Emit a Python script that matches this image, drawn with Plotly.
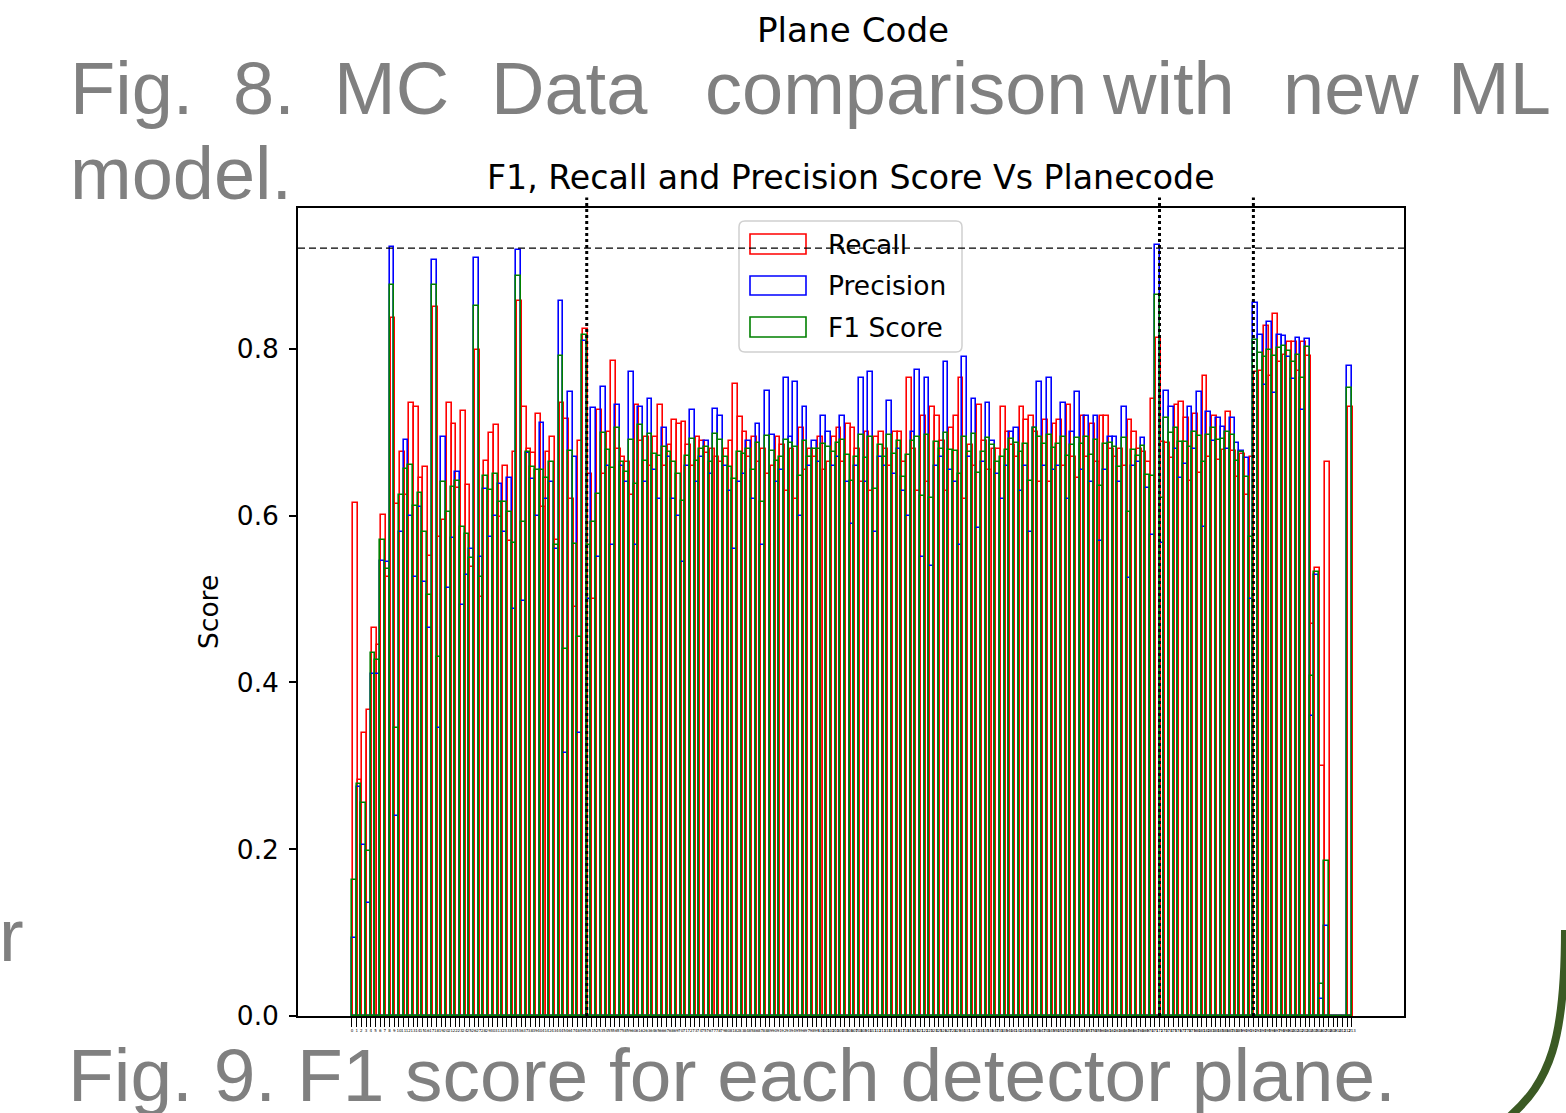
import plotly.graph_objects as go

# ---------------- data ----------------
plane_codes = list(range(213))                 # histogram bins 0..212
tick_values = list(range(214))
tick_labels = [str(v) for v in tick_values]

recall = [
    0.615, 0.283, 0.340, 0.367, 0.465, 0.445, 0.601, 0.527, 0.837, 0.614,
    0.676, 0.625, 0.735, 0.730, 0.645, 0.659, 0.552, 0.850, 0.575, 0.595,
    0.735, 0.710, 0.633, 0.726, 0.637, 0.538, 0.799, 0.503, 0.666, 0.699,
    0.709, 0.598, 0.660, 0.570, 0.676, 0.858, 0.730, 0.680, 0.675, 0.722,
    0.610, 0.676, 0.695, 0.571, 0.735, 0.716, 0.620, 0.490, 0.690, 0.824,
    0.650, 0.500, 0.727, 0.650, 0.700, 0.786, 0.680, 0.670, 0.665, 0.625,
    0.733, 0.690, 0.695, 0.660, 0.695, 0.733, 0.660, 0.685, 0.715, 0.710,
    0.713, 0.685, 0.660, 0.695, 0.690, 0.675, 0.680, 0.670, 0.665, 0.680,
    0.690, 0.758, 0.718, 0.700, 0.670, 0.695, 0.665, 0.680, 0.650, 0.660,
    0.695, 0.685, 0.630, 0.680, 0.620, 0.705, 0.655, 0.680, 0.670, 0.695,
    0.655, 0.665, 0.695, 0.705, 0.665, 0.710, 0.705, 0.680, 0.640, 0.700,
    0.630, 0.695, 0.700, 0.680, 0.660, 0.700, 0.700, 0.665, 0.765, 0.680,
    0.630, 0.720, 0.640, 0.730, 0.720, 0.690, 0.630, 0.705, 0.720, 0.765,
    0.620, 0.685, 0.660, 0.733, 0.690, 0.655, 0.680, 0.680, 0.730, 0.700,
    0.685, 0.670, 0.730, 0.715, 0.720, 0.700, 0.640, 0.715, 0.640, 0.710,
    0.715, 0.660, 0.733, 0.670, 0.645, 0.720, 0.670, 0.710, 0.665, 0.720,
    0.720, 0.680, 0.670, 0.680, 0.660, 0.715, 0.700, 0.680, 0.676, 0.665,
    0.740, 0.813, 0.688, 0.687, 0.669, 0.733, 0.737, 0.717, 0.642, 0.722,
    0.651, 0.768, 0.671, 0.720, 0.667, 0.679, 0.725, 0.678, 0.646, 0.674,
    0.625, 0.670, 0.773, 0.774, 0.827, 0.768, 0.842, 0.785, 0.793, 0.808,
    0.808, 0.774, 0.808, 0.792, 0.470, 0.537, 0.300, 0.665, 0.0, 0.0,
    0.0, 0.0, 0.730,
]

precision = [
    0.094, 0.275, 0.205, 0.135, 0.410, 0.410, 0.546, 0.545, 0.922, 0.240,
    0.580, 0.691, 0.600, 0.527, 0.611, 0.520, 0.465, 0.907, 0.345, 0.694,
    0.513, 0.573, 0.652, 0.493, 0.529, 0.560, 0.909, 0.550, 0.632, 0.575,
    0.600, 0.638, 0.580, 0.645, 0.488, 0.919, 0.498, 0.675, 0.644, 0.600,
    0.711, 0.620, 0.640, 0.560, 0.857, 0.315, 0.749, 0.671, 0.340, 0.810,
    0.500, 0.729, 0.550, 0.755, 0.660, 0.565, 0.733, 0.660, 0.640, 0.773,
    0.565, 0.730, 0.640, 0.740, 0.655, 0.620, 0.705, 0.670, 0.620, 0.600,
    0.545, 0.660, 0.727, 0.640, 0.670, 0.690, 0.650, 0.728, 0.720, 0.660,
    0.630, 0.560, 0.640, 0.650, 0.690, 0.620, 0.710, 0.565, 0.750, 0.697,
    0.640, 0.655, 0.765, 0.695, 0.760, 0.600, 0.730, 0.660, 0.690, 0.665,
    0.720, 0.700, 0.660, 0.670, 0.720, 0.640, 0.590, 0.660, 0.765, 0.640,
    0.773, 0.580, 0.670, 0.660, 0.738, 0.650, 0.680, 0.630, 0.600, 0.700,
    0.775, 0.550, 0.765, 0.540, 0.660, 0.670, 0.785, 0.655, 0.640, 0.565,
    0.790, 0.670, 0.740, 0.585, 0.665, 0.735, 0.690, 0.650, 0.620, 0.660,
    0.700, 0.705, 0.630, 0.660, 0.580, 0.705, 0.760, 0.660, 0.765, 0.655,
    0.660, 0.735, 0.620, 0.700, 0.748, 0.655, 0.720, 0.640, 0.720, 0.570,
    0.655, 0.695, 0.695, 0.640, 0.730, 0.525, 0.660, 0.665, 0.693, 0.633,
    0.577, 0.925, 0.567, 0.750, 0.731, 0.680, 0.645, 0.662, 0.730, 0.680,
    0.749, 0.587, 0.725, 0.690, 0.717, 0.706, 0.680, 0.717, 0.687, 0.678,
    0.669, 0.500, 0.855, 0.817, 0.757, 0.832, 0.747, 0.817, 0.815, 0.790,
    0.764, 0.813, 0.727, 0.812, 0.360, 0.529, 0.020, 0.108, 0.0, 0.0,
    0.0, 0.0, 0.780,
]

f1_score = [
    0.163, 0.278, 0.256, 0.198, 0.435, 0.427, 0.571, 0.536, 0.877, 0.345,
    0.625, 0.656, 0.661, 0.612, 0.627, 0.581, 0.505, 0.877, 0.431, 0.641,
    0.604, 0.634, 0.642, 0.587, 0.578, 0.549, 0.851, 0.526, 0.648, 0.631,
    0.650, 0.617, 0.617, 0.605, 0.567, 0.888, 0.592, 0.677, 0.659, 0.655,
    0.655, 0.645, 0.665, 0.565, 0.791, 0.440, 0.678, 0.566, 0.455, 0.817,
    0.565, 0.593, 0.626, 0.699, 0.679, 0.657, 0.705, 0.665, 0.652, 0.691,
    0.638, 0.709, 0.666, 0.698, 0.674, 0.672, 0.682, 0.677, 0.664, 0.650,
    0.618, 0.672, 0.692, 0.666, 0.680, 0.682, 0.665, 0.698, 0.691, 0.670,
    0.659, 0.644, 0.677, 0.674, 0.680, 0.655, 0.687, 0.617, 0.696, 0.678,
    0.666, 0.670, 0.691, 0.687, 0.683, 0.648, 0.690, 0.670, 0.680, 0.680,
    0.686, 0.682, 0.677, 0.687, 0.691, 0.673, 0.642, 0.670, 0.697, 0.669,
    0.694, 0.632, 0.685, 0.670, 0.697, 0.674, 0.690, 0.647, 0.673, 0.690,
    0.695, 0.624, 0.697, 0.621, 0.689, 0.680, 0.699, 0.679, 0.678, 0.650,
    0.695, 0.677, 0.698, 0.651, 0.677, 0.693, 0.685, 0.665, 0.671, 0.679,
    0.692, 0.687, 0.676, 0.686, 0.642, 0.705, 0.695, 0.686, 0.697, 0.681,
    0.686, 0.695, 0.672, 0.685, 0.693, 0.686, 0.694, 0.673, 0.691, 0.636,
    0.686, 0.687, 0.682, 0.659, 0.693, 0.605, 0.679, 0.672, 0.684, 0.649,
    0.648, 0.865, 0.621, 0.717, 0.699, 0.705, 0.688, 0.688, 0.683, 0.700,
    0.696, 0.665, 0.697, 0.705, 0.691, 0.692, 0.700, 0.697, 0.666, 0.676,
    0.646, 0.575, 0.811, 0.795, 0.790, 0.799, 0.792, 0.801, 0.804, 0.798,
    0.785, 0.793, 0.765, 0.802, 0.408, 0.532, 0.038, 0.186, 0.0, 0.0,
    0.0, 0.0, 0.753,
]

region_boundaries = [50, 172, 192]   # dotted vertical separators (plane code)
reference_score = 0.921              # dashed horizontal reference line

# ---------------- layout helpers (pixel -> paper) ----------------
W, H = 1566, 1113
L, R, T, B = 298, 1404, 208, 1016


def px(xp):
    return (xp - L) / (R - L)


def py(yp):
    return (B - yp) / (B - T)


FONT = "DejaVu Sans"
GRAY = "#808080"
SLIDE_FONT = "Liberation Sans"

fig = go.Figure()
series = [("Recall", recall, "#ff0000", 0.22),
          ("Precision", precision, "#0000ff", 0.0),
          ("F1 Score", f1_score, "#008000", 0.0)]
for name, vals, col, shift in series:
    fig.add_trace(go.Bar(
        x=[c + 0.5 + shift for c in plane_codes], y=vals, name=name, width=1.0,
        marker=dict(color="rgba(0,0,0,0)", line=dict(color=col, width=1.6)),
        showlegend=False, hoverinfo="y+name",
    ))

shapes = []
# dotted region separators
for xb in region_boundaries:
    shapes.append(dict(type="line", xref="x", yref="paper", x0=xb, x1=xb,
                       y0=0, y1=1.013, line=dict(color="black", width=3, dash="dot"),
                       layer="above"))

# custom legend box (rounded)
bx0, bx1, by0, by1 = px(739), px(962), py(352), py(221)
rx, ry = 6 / (R - L), 6 / (B - T)
legend_path = (f"M {bx0+rx},{by0} L {bx1-rx},{by0} Q {bx1},{by0} {bx1},{by0+ry} "
               f"L {bx1},{by1-ry} Q {bx1},{by1} {bx1-rx},{by1} "
               f"L {bx0+rx},{by1} Q {bx0},{by1} {bx0},{by1-ry} "
               f"L {bx0},{by0+ry} Q {bx0},{by0} {bx0+rx},{by0} Z")
shapes.append(dict(type="path", xref="paper", yref="paper", path=legend_path,
                   fillcolor="rgba(255,255,255,0.85)", line=dict(color="#d0d0d0", width=1.5),
                   layer="above"))
handle_rows = [(234, 254), (276, 295), (317, 337)]
for (y0, y1), (_, _, col, _) in zip(handle_rows, series):
    shapes.append(dict(type="rect", xref="paper", yref="paper",
                       x0=px(750), x1=px(806), y0=py(y1), y1=py(y0),
                       line=dict(color=col, width=1.6), fillcolor="rgba(0,0,0,0)",
                       layer="above"))

# dashed horizontal reference line (drawn over legend as in original)
shapes.append(dict(type="line", xref="paper", yref="y", x0=0, x1=1,
                   y0=reference_score, y1=reference_score,
                   line=dict(color="black", width=1.4, dash="7px,4px"), layer="above"))

# green slide border curve bottom-right
shapes.append(dict(type="path", xref="paper", yref="paper",
                   path=(f"M {px(1565)},{py(930)} C {px(1565)},{py(1040)} "
                         f"{px(1550)},{py(1082)} {px(1508)},{py(1118)}"),
                   line=dict(color="#3b5a24", width=8), layer="above"))

annotations = []
# legend labels
for (y0, y1), (name, _, _, _) in zip(handle_rows, series):
    annotations.append(dict(xref="paper", yref="paper", x=px(826), y=py((y0 + y1) / 2),
                            text=name, showarrow=False, xanchor="left", yanchor="middle",
                            font=dict(family=FONT, size=26.5, color="black")))
# titles
annotations.append(dict(xref="paper", yref="paper", x=px(851), y=py(178),
                        text="F1, Recall and Precision Score Vs Planecode",
                        showarrow=False, xanchor="center", yanchor="middle",
                        font=dict(family=FONT, size=33.2, color="black")))
annotations.append(dict(xref="paper", yref="paper", x=px(853), y=py(30), text="Plane Code",
                        showarrow=False, xanchor="center", yanchor="middle",
                        font=dict(family=FONT, size=34.2, color="black")))
annotations.append(dict(xref="paper", yref="paper", x=px(208), y=py(612), text="Score",
                        showarrow=False, xanchor="center", yanchor="middle", textangle=-90,
                        font=dict(family=FONT, size=26.5, color="black")))

# gray slide text
slide_words = [("Fig.", 68), ("8.", 231), ("MC", 332), ("Data", 489),
               ("comparison", 703), ("with", 1100), ("new", 1281), ("ML", 1446)]
for w, xl in slide_words:
    annotations.append(dict(xref="paper", yref="paper", x=px(xl), y=py(88), text=w,
                            showarrow=False, xanchor="left", yanchor="middle",
                            font=dict(family=SLIDE_FONT, size=74, color=GRAY)))
annotations.append(dict(xref="paper", yref="paper", x=px(68), y=py(174), text="model.",
                        showarrow=False, xanchor="left", yanchor="middle",
                        font=dict(family=SLIDE_FONT, size=74, color=GRAY)))
annotations.append(dict(xref="paper", yref="paper", x=px(66), y=py(1075),
                        text="Fig. 9. F1 score for each detector plane.",
                        showarrow=False, xanchor="left", yanchor="middle",
                        font=dict(family=SLIDE_FONT, size=74.9, color=GRAY)))
annotations.append(dict(xref="paper", yref="paper", x=px(-3), y=py(935), text="r",
                        showarrow=False, xanchor="left", yanchor="middle",
                        font=dict(family=SLIDE_FONT, size=74, color=GRAY)))

fig.update_layout(
    width=W, height=H,
    margin=dict(l=L, r=W - R, t=T, b=H - B, autoexpand=False),
    paper_bgcolor="white", plot_bgcolor="white",
    barmode="overlay", bargap=0,
    showlegend=False,
    shapes=shapes, annotations=annotations,
    font=dict(family=FONT, color="black"),
    xaxis=dict(range=[-11.5, 224.08], tickmode="array", tickvals=tick_values, ticktext=tick_labels,
               tickangle=0, tickfont=dict(size=4, family=FONT), ticks="outside", ticklen=9,
               tickwidth=1.3, tickcolor="black", showgrid=False, zeroline=False,
               showline=True, linecolor="black", linewidth=1.5, mirror=True),
    yaxis=dict(range=[0, 0.9691], tickmode="array", tickvals=[0, 0.2, 0.4, 0.6, 0.8],
               ticktext=["0.0", "0.2", "0.4", "0.6", "0.8"], tickfont=dict(size=26.5, family=FONT),
               ticks="outside", ticklen=7, tickwidth=1.5, tickcolor="black",
               ticklabelstandoff=5,
               showgrid=False, zeroline=False, showline=True, linecolor="black",
               linewidth=1.5, mirror=True),
)

fig.write_html("out.html")
